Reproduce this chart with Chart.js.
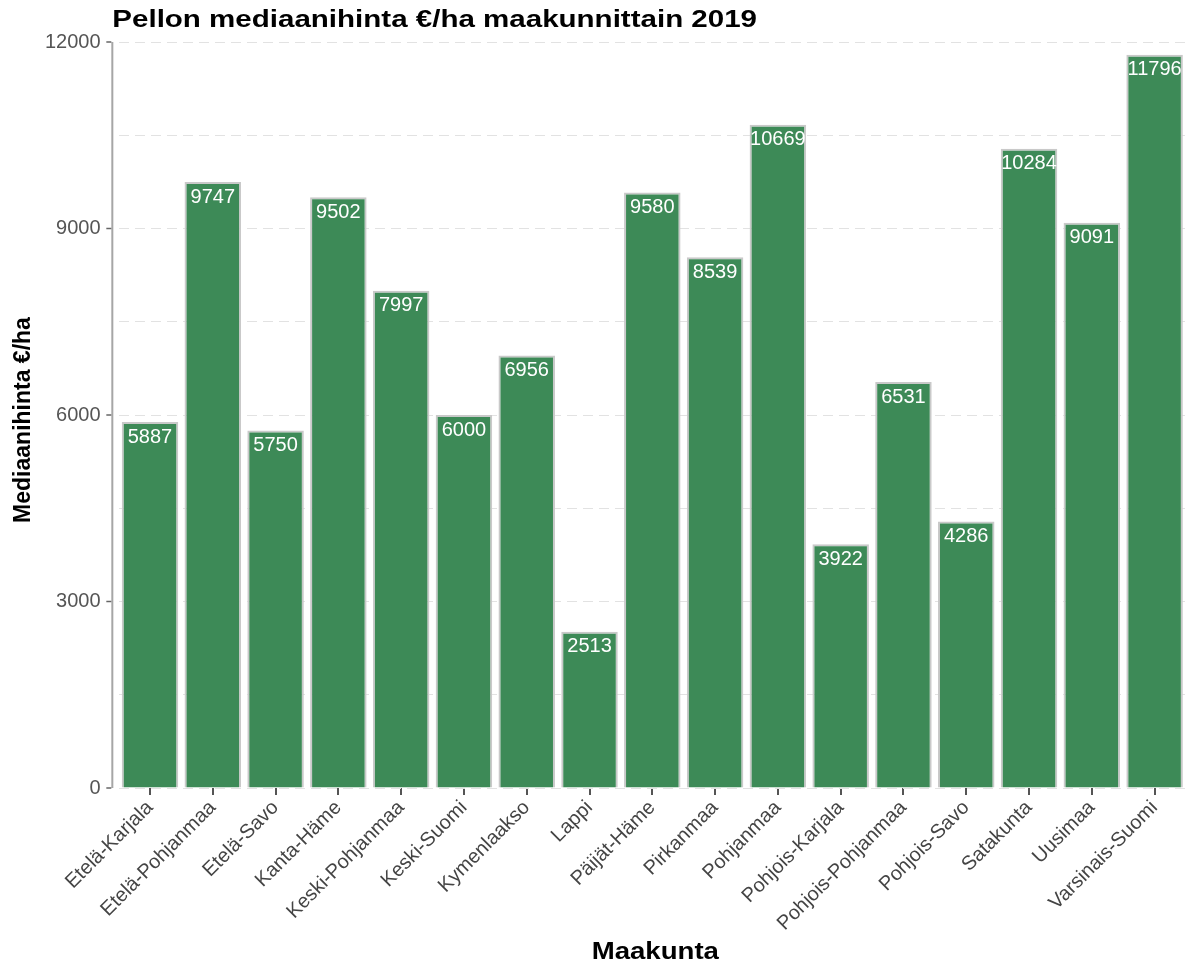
<!DOCTYPE html>
<html>
<head>
<meta charset="utf-8">
<script src="https://cdn.jsdelivr.net/npm/chart.js@4.4.1/dist/chart.umd.min.js"></script>
<style>
    html, body { margin: 0; padding: 0; background: #ffffff; overflow: hidden; }
    #wrap { width: 1187px; height: 963px; position: relative; }
</style>
</head>
<body>
<div id="wrap"><canvas id="priceChart"></canvas></div>
<script>
// Data
const regions = ['Etelä-Karjala', 'Etelä-Pohjanmaa', 'Etelä-Savo', 'Kanta-Häme', 'Keski-Pohjanmaa',
    'Keski-Suomi', 'Kymenlaakso', 'Lappi', 'Päijät-Häme', 'Pirkanmaa', 'Pohjanmaa',
    'Pohjois-Karjala', 'Pohjois-Pohjanmaa', 'Pohjois-Savo', 'Satakunta', 'Uusimaa', 'Varsinais-Suomi'];
const medianPrices = [5887, 9747, 5750, 9502, 7997, 6000, 6956, 2513, 9580, 8539, 10669,
    3922, 6531, 4286, 10284, 9091, 11796];
const yTicks = [0, 3000, 6000, 9000, 12000];

const FONT = "'Liberation Sans', Arial, sans-serif";

// draw text squeezed/stretched sideways (the source image is a bit wide)
function wideText(ctx, text, x, y, sx) {
    ctx.save();
    ctx.translate(x, y);
    ctx.scale(sx, 1);
    ctx.fillText(text, 0, 0);
    ctx.restore();
}

// Value labels inside the top of each bar
const barLabels = {
    id: 'barLabels',
    afterDatasetsDraw(chart) {
        const ctx = chart.ctx;
        const meta = chart.getDatasetMeta(0);
        ctx.save();
        ctx.fillStyle = '#ffffff';
        ctx.font = '20px ' + FONT;
        ctx.textAlign = 'center';
        ctx.textBaseline = 'top';
        meta.data.forEach((bar, i) => {
            ctx.fillText(String(medianPrices[i]), bar.x, bar.y + 5);
        });
        ctx.restore();
    }
};

// Axis line, tick marks and titles in the ggplot style
const decorations = {
    id: 'decorations',
    afterDraw(chart) {
        const ctx = chart.ctx;
        const area = chart.chartArea;
        const y = chart.scales.y;
        const unit = (area.right - area.left) / regions.length;
        const axisX = area.left - 0.1 * unit;

        ctx.save();
        // y axis line
        ctx.strokeStyle = '#a6a6a6';
        ctx.lineWidth = 2;
        ctx.beginPath();
        ctx.moveTo(axisX, area.top);
        ctx.lineTo(axisX, area.bottom);
        ctx.stroke();
        // y tick marks
        ctx.strokeStyle = '#666666';
        ctx.lineWidth = 1.5;
        yTicks.forEach(v => {
            const py = y.getPixelForValue(v);
            ctx.beginPath();
            ctx.moveTo(axisX - 6, py);
            ctx.lineTo(axisX - 1, py);
            ctx.stroke();
        });

        ctx.fillStyle = '#000000';
        // main title
        ctx.font = 'bold 24px ' + FONT;
        ctx.textAlign = 'left';
        ctx.textBaseline = 'alphabetic';
        wideText(ctx, 'Pellon mediaanihinta €/ha maakunnittain 2019', axisX, 27, 1.23);
        // x title
        ctx.textAlign = 'center';
        wideText(ctx, 'Maakunta', (area.left + area.right) / 2 + 3, 959, 1.15);
        // y title
        ctx.font = 'bold 23px ' + FONT;
        ctx.translate(30, (area.top + area.bottom) / 2 + 5);
        ctx.rotate(-Math.PI / 2);
        ctx.fillText('Mediaanihinta €/ha', 0, 0);
        ctx.restore();
    }
};

const ctx = document.getElementById('priceChart').getContext('2d');

const priceChart = new Chart(ctx, {
    type: 'bar',
    data: {
        labels: regions,
        datasets: [{
            label: 'Mediaanihinta €/ha',
            data: medianPrices,
            backgroundColor: '#3d8a57',
            borderColor: '#c9c9c9',
            borderWidth: 2,
            barPercentage: 0.9,
            categoryPercentage: 1
        }]
    },
    options: {
        responsive: true,
        maintainAspectRatio: false,
        animation: false,
        layout: {
            padding: { top: 42, right: 1, bottom: 0, left: 0 }
        },
        scales: {
            x: {
                afterFit(scale) { scale.height = 175; },
                grid: {
                    display: true,
                    drawOnChartArea: false,
                    offset: false,
                    tickLength: 7,
                    tickColor: '#555555',
                    lineWidth: 2
                },
                border: { display: false },
                ticks: {
                    color: '#444444',
                    font: { family: FONT, size: 20 },
                    maxRotation: 45,
                    minRotation: 45,
                    autoSkip: false,
                    padding: 1
                },
                title: { display: false }
            },
            y: {
                min: 0,
                max: 12000,
                afterFit(scale) { scale.width = 118.6; },
                afterBuildTicks(scale) {
                    // major ticks plus the faint mid lines
                    const all = [];
                    for (let i = 0; i < yTicks.length; i++) {
                        all.push({ value: yTicks[i] });
                        if (i < yTicks.length - 1) all.push({ value: (yTicks[i] + yTicks[i + 1]) / 2 });
                    }
                    scale.ticks = all;
                },
                grid: {
                    color: '#e2e2e2',
                    lineWidth: 1,
                    tickLength: 12,
                    tickColor: 'rgba(0,0,0,0)'
                },
                border: { display: false, dash: [10, 6] },
                ticks: {
                    color: '#555555',
                    font: { family: FONT, size: 20 },
                    padding: 6,
                    callback: v => (yTicks.includes(v) ? String(v) : '')
                },
                title: { display: false }
            }
        },
        plugins: {
            legend: { display: false },
            title: { display: false },
            tooltip: { enabled: false }
        }
    },
    plugins: [barLabels, decorations]
});
</script>
</body>
</html>
